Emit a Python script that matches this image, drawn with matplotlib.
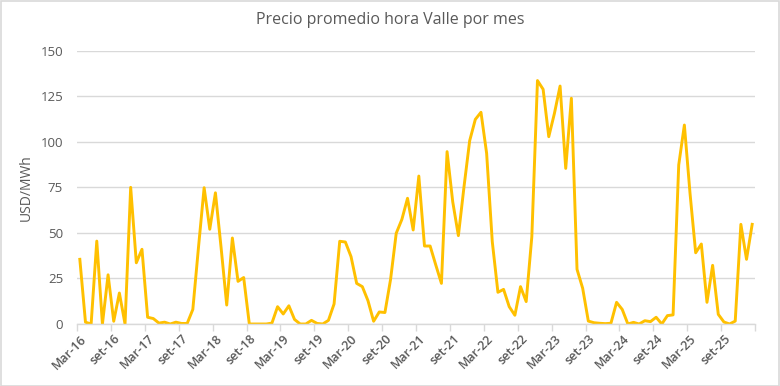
import matplotlib
matplotlib.use("Agg")
import matplotlib.pyplot as plt
import numpy as np

# Monthly values, Mar-16 .. Feb-26
values = [
    35.5, 1.0, 0.0, 45.5, 0.0, 27.0, 1.5, 17.0, 0.0, 75.0, 33.6, 41.0,      # Mar-16..Feb-17
    3.7, 3.0, 0.5, 1.0, 0.0, 1.0, 0.3, 0.3, 8.0, 42.0, 74.8, 52.0,          # Mar-17..Feb-18
    72.0, 42.0, 10.4, 47.2, 23.4, 25.5, 0.0, 0.0, 0.0, 0.0, 0.5, 9.5,       # Mar-18..Feb-19
    5.5, 10.0, 2.5, 0.0, 0.0, 2.0, 0.3, 0.0, 2.0, 11.0, 45.4, 45.0,         # Mar-19..Feb-20
    37.0, 22.3, 20.5, 12.8, 1.5, 6.6, 6.3, 24.5, 49.8, 57.4, 69.0, 51.6,    # Mar-20..Feb-21
    81.2, 42.8, 42.8, 32.4, 22.3, 94.6, 67.1, 48.5, 75.4, 100.6, 112.3, 116.2,  # Mar-21..Feb-22
    93.7, 45.2, 17.4, 19.0, 9.5, 4.8, 20.5, 12.3, 47.9, 133.6, 128.8, 102.8,    # Mar-22..Feb-23
    115.6, 130.6, 85.4, 123.9, 30.0, 19.6, 1.6, 0.7, 0.4, 0.2, 0.4, 11.9,   # Mar-23..Feb-24
    8.0, 0.0, 0.9, 0.0, 1.8, 1.3, 3.7, 0.0, 4.6, 5.0, 87.3, 109.2,          # Mar-24..Feb-25
    71.7, 39.1, 43.9, 11.9, 32.2, 5.3, 1.1, 0.0, 1.6, 54.7, 35.5, 54.7,     # Mar-25..Feb-26
]
tick_labels = ["Mar-16", "set-16", "Mar-17", "set-17", "Mar-18", "set-18",
               "Mar-19", "set-19", "Mar-20", "set-20", "Mar-21", "set-21",
               "Mar-22", "set-22", "Mar-23", "set-23", "Mar-24", "set-24",
               "Mar-25", "set-25"]
y_ticks = [0, 25, 50, 75, 100, 125, 150]
title = "Precio promedio hora Valle por mes"
y_label = "USD/MWh"

plt.rcParams['font.family'] = ['Open Sans', 'DejaVu Sans']
txt = "#595959"

fig = plt.figure(figsize=(7.8, 3.86), dpi=100)
fig.patch.set_facecolor("white")
ax = fig.add_axes([77/780, 1-324/386, (755-77)/780, (324-50.7)/386])

x = np.arange(len(values))
ax.plot(x, values, color="#FFC000", lw=2.1, solid_joinstyle="round")

ax.set_xlim(-0.5, len(values) - 0.5)
ax.set_ylim(0, 150)
ax.set_yticks(y_ticks)
ax.yaxis.grid(True, color="#D9D9D9", lw=1.0)
ax.set_axisbelow(True)
for s in ["top", "right", "left"]:
    ax.spines[s].set_visible(False)
ax.spines["bottom"].set_color("#D9D9D9")
ax.spines["bottom"].set_linewidth(1.0)

label_pos = np.arange(0, len(values), 6)[:len(tick_labels)]
ax.set_xticks(label_pos)
ax.set_xticklabels(tick_labels, rotation=45, ha="right", va="top",
                   rotation_mode="anchor", color=txt, fontsize=9, fontweight="semibold")
ax.tick_params(axis="x", length=0, pad=6)
ax.set_xticks(np.arange(-0.5, len(values), 6), minor=True)
ax.tick_params(axis="x", which="minor", length=5, color="#D9D9D9", width=1.0)
ax.tick_params(axis="y", length=0, pad=10, labelcolor=txt, labelsize=9.5)

ax.set_ylabel(y_label, color=txt, fontsize=10)
ax.yaxis.set_label_coords((34 - 77) / 678, 0.5)
fig.text(0.5, 1-20/386, title, ha="center", va="center", color=txt, fontsize=11.5)

# chart area border
fig.add_artist(plt.Rectangle((0.001, 0.001), 0.998, 0.997, transform=fig.transFigure,
                             fill=False, edgecolor="#D9D9D9", lw=1.2))

fig.savefig("out.png", dpi=100)
